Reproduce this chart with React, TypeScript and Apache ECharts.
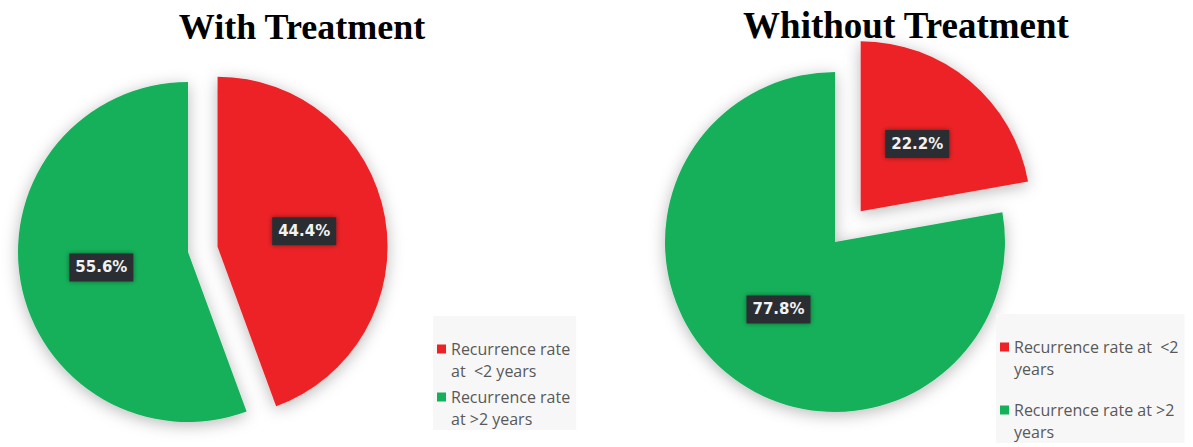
import React, { useEffect, useRef } from "react";
import * as echarts from "echarts";

const titles = ["With Treatment", "Whithout Treatment"];
const categories = ["Recurrence rate at <2 years", "Recurrence rate at >2 years"];
const withTreatment = [44.4, 55.6];
const withoutTreatment = [22.2, 77.8];
const sliceColors = ["#ec2227", "#14b05a"];
const leftLegendLabels = ["Recurrence rate\nat  <2 years", "Recurrence rate\nat >2 years"];
const rightLegendLabels = ["Recurrence rate at  <2\nyears", "Recurrence rate at >2\nyears"];

const LINE_H = 22;

function makeData(values: number[]) {
  return categories.map((name, i) => ({
    name,
    value: values[i],
    selected: i === 0,
    itemStyle: { color: sliceColors[i] },
  }));
}

const labelStyle = {
  show: true,
  position: "inside",
  formatter: (p: any) => `${Number(p.value).toFixed(1)}%`,
  color: "#f2f2f2",
  fontFamily: "DejaVu Sans",
  fontWeight: "bold",
  fontSize: 15,
  backgroundColor: "#2b2f33",
  padding: [7, 6, 6, 6],
  shadowBlur: 5,
  shadowColor: "rgba(0,0,0,0.45)",
};

const pieItemStyle = {
  shadowBlur: 16,
  shadowColor: "rgba(0,0,0,0.28)",
  shadowOffsetY: 3,
};

function legendFor(labels: string[], left: number, top: number, gap: number) {
  return {
    orient: "vertical",
    left,
    top,
    data: categories,
    icon: "rect",
    itemWidth: 9,
    itemHeight: 9,
    itemGap: gap,
    selectedMode: false,
    padding: [0, 6, 0, 4],
    backgroundColor: "#f7f7f7",
    // leading empty line keeps the first text line level with the colour square
    formatter: (name: string) => "\n" + labels[categories.indexOf(name)],
    textStyle: {
      color: "#595959",
      fontFamily: "Open Sans",
      fontSize: 16,
      lineHeight: LINE_H,
    },
  };
}

export default function App() {
  const ref = useRef<HTMLDivElement>(null);
  useEffect(() => {
    if (!ref.current) return;
    const chart = echarts.init(ref.current, undefined, { renderer: "svg" });
    chart.setOption({
      animation: false,
      backgroundColor: "#ffffff",
      title: [
        {
          text: titles[0],
          left: 297,
          top: 4,
          textAlign: "center",
          textStyle: { fontFamily: "Liberation Serif", fontWeight: "bold", fontSize: 36, color: "#000" },
        },
        {
          text: titles[1],
          left: 901,
          top: 2,
          textAlign: "center",
          z: 10,
          textStyle: { fontFamily: "Liberation Serif", fontWeight: "bold", fontSize: 37, color: "#000" },
        },
      ],
      legend: [
        legendFor(leftLegendLabels, 433, 316, -18),
        legendFor(rightLegendLabels, 996, 314, -3),
      ],
      series: [
        {
          type: "pie",
          center: [188, 252],
          radius: 170,
          startAngle: 90,
          clockwise: true,
          selectedMode: "single",
          selectedOffset: 30,
          label: labelStyle,
          labelLine: { show: false },
          itemStyle: pieItemStyle,
          emphasis: { disabled: true },
          data: makeData(withTreatment),
        },
        {
          type: "pie",
          center: [835, 242],
          radius: 170,
          startAngle: 90,
          clockwise: true,
          selectedMode: "single",
          selectedOffset: 40,
          label: labelStyle,
          labelLine: { show: false },
          itemStyle: pieItemStyle,
          emphasis: { disabled: true },
          data: makeData(withoutTreatment),
        },
      ],
    });
    return () => chart.dispose();
  }, []);
  return (
    <div
      ref={ref}
      style={{ position: "absolute", left: 0, top: 0, width: 1193, height: 447 }}
    />
  );
}
